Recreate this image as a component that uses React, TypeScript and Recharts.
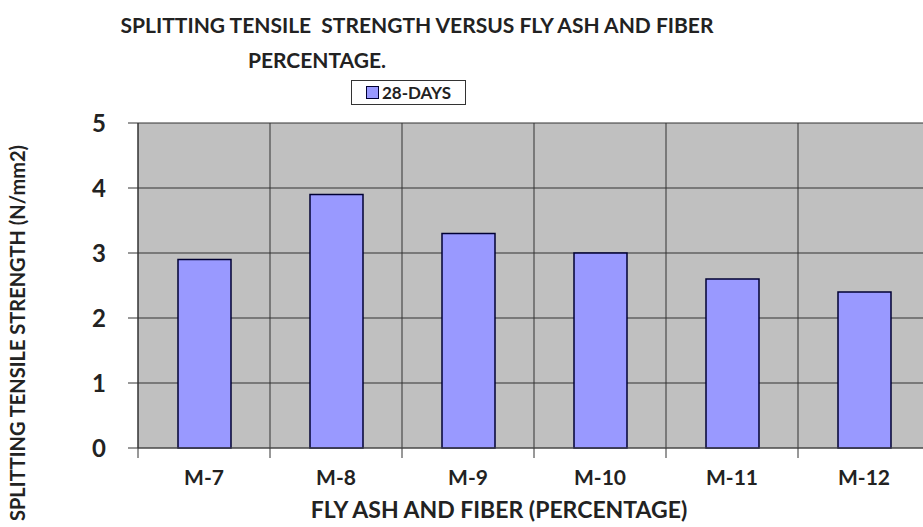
import { BarChart, Bar, XAxis, YAxis, CartesianGrid, Label } from 'recharts';

const mixes = ['M-7', 'M-8', 'M-9', 'M-10', 'M-11', 'M-12'];
const strength28 = [2.9, 3.9, 3.3, 3.0, 2.6, 2.4];
const yTicks = [0, 1, 2, 3, 4, 5];

const FONT = 'Lato, "Open Sans", sans-serif';
const CHART_W = 940;
const CHART_H = 527;
const M = { top: 123, right: 10, bottom: 49, left: 78 };
const Y_W = 60;
const X_H = 30;
const PLOT_W = CHART_W - M.left - Y_W - M.right;
const BAND = PLOT_W / mixes.length;

const data = mixes.map((name, i) => ({ name, days28: strength28[i] }));

function XTick({ x, y, payload }: any) {
  const bx = x - BAND / 2;
  return (
    <g>
      <line x1={bx} y1={y} x2={bx} y2={y + 10} stroke="#333" strokeWidth={1} />
      <text x={x} y={y + 37} textAnchor="middle" fontFamily={FONT} fontWeight={700} fontSize={21} fill="#222">
        {payload.value}
      </text>
    </g>
  );
}

export default function App() {
  return (
    <div style={{ position: 'absolute', left: 0, top: 0, width: 923, height: 527, overflow: 'hidden', background: '#fff' }}>
      <div style={{ position: 'absolute', left: 66, top: 11, width: 702, textAlign: 'center', fontFamily: FONT, fontWeight: 700, fontSize: 21, color: '#222', lineHeight: '28px', whiteSpace: 'nowrap' }}>
        SPLITTING TENSILE&nbsp; STRENGTH VERSUS FLY ASH AND FIBER
      </div>
      <div style={{ position: 'absolute', left: 217, top: 46, width: 200, textAlign: 'center', fontFamily: FONT, fontWeight: 700, fontSize: 21, color: '#222', lineHeight: '28px' }}>
        PERCENTAGE.
      </div>
      <div style={{ position: 'absolute', left: 351, top: 80, width: 113, height: 23, border: '1px solid #333', background: '#fff', display: 'flex', alignItems: 'center', justifyContent: 'center', fontFamily: FONT, fontWeight: 700, fontSize: 17, color: '#222', zIndex: 2 }}>
        <span style={{ display: 'inline-block', width: 11, height: 11, background: '#9999ff', border: '1px solid #000033', marginRight: 3 }} />
        28-DAYS
      </div>
      <BarChart width={CHART_W} height={CHART_H} data={data} margin={M}>
        <CartesianGrid
          fill="#c0c0c0"
          stroke="#333"
          strokeWidth={1}
          verticalCoordinatesGenerator={({ offset }: any) =>
            mixes.map((_, i) => offset.left + i * (offset.width / mixes.length)).concat([offset.left + offset.width])
          }
        />
        <XAxis
          dataKey="name"
          height={X_H}
          tickLine={false}
          tickSize={0}
          tickMargin={0}
          axisLine={{ stroke: '#555' }}
          tick={<XTick />}
          interval={0}
        >
          <Label
            content={() => (
              <text x={499} y={518} textAnchor="middle" fontFamily={FONT} fontWeight={700} fontSize={23} fill="#222">
                FLY ASH AND FIBER (PERCENTAGE)
              </text>
            )}
          />
        </XAxis>
        <YAxis
          domain={[0, 5]}
          ticks={yTicks}
          width={Y_W}
          tickSize={10}
          tickMargin={22}
          tickLine={{ stroke: '#333' }}
          axisLine={{ stroke: '#333' }}
          tick={{ fontFamily: FONT, fontWeight: 700, fontSize: 24, fill: '#222' }}
        >
          <Label
            content={() => (
              <text x={25} y={333} transform="rotate(-90 25 333)" textAnchor="middle" fontFamily={FONT} fontWeight={700} fontSize={20} fill="#222">
                SPLITTING TENSILE STRENGTH (N/mm2)
              </text>
            )}
          />
        </YAxis>
        <Bar dataKey="days28" fill="#9999ff" stroke="#000033" strokeWidth={1.5} barSize={53} isAnimationActive={false} />
      </BarChart>
    </div>
  );
}
